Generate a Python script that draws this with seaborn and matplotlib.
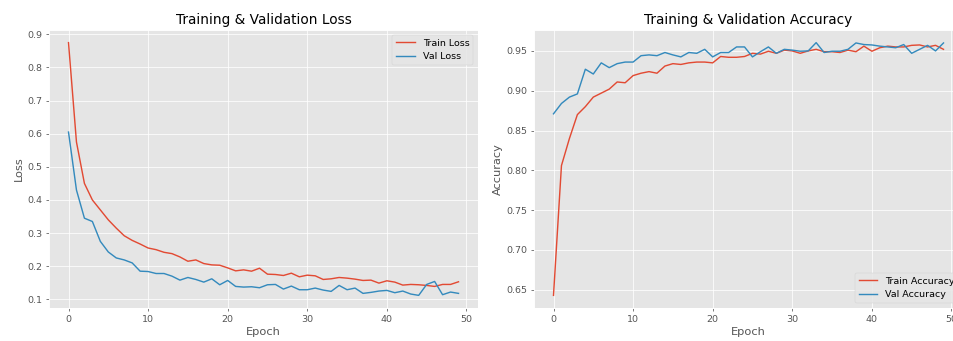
import matplotlib
matplotlib.use("Agg")
import matplotlib.pyplot as plt
import seaborn as sns
import numpy as np
import pandas as pd

epochs = list(range(50))

train_loss = [0.875, 0.575, 0.45, 0.40, 0.37, 0.34, 0.315, 0.292, 0.278, 0.267,
              0.255, 0.25, 0.242, 0.238, 0.228, 0.215, 0.219, 0.208, 0.204, 0.203,
              0.195, 0.186, 0.189, 0.185, 0.194, 0.176, 0.175, 0.172, 0.179, 0.168,
              0.173, 0.171, 0.16, 0.162, 0.166, 0.164, 0.161, 0.157, 0.158, 0.149,
              0.156, 0.152, 0.143, 0.145, 0.144, 0.142, 0.139, 0.145, 0.145, 0.153]
val_loss = [0.605, 0.43, 0.345, 0.335, 0.275, 0.243, 0.225, 0.219, 0.21, 0.185,
            0.184, 0.178, 0.178, 0.17, 0.158, 0.166, 0.16, 0.152, 0.162, 0.144,
            0.157, 0.139, 0.137, 0.138, 0.135, 0.144, 0.145, 0.131, 0.14, 0.129,
            0.129, 0.134, 0.128, 0.124, 0.142, 0.129, 0.134, 0.118, 0.121, 0.125,
            0.127, 0.12, 0.125, 0.116, 0.112, 0.145, 0.154, 0.114, 0.122, 0.118]
train_acc = [0.643, 0.806, 0.84, 0.87, 0.88, 0.892, 0.897, 0.902, 0.911, 0.910,
             0.919, 0.922, 0.924, 0.922, 0.931, 0.934, 0.933, 0.935, 0.936, 0.936,
             0.935, 0.943, 0.942, 0.942, 0.943, 0.947, 0.946, 0.9496, 0.947, 0.951,
             0.95, 0.947, 0.95, 0.952, 0.949, 0.949, 0.948, 0.951, 0.949, 0.956,
             0.9496, 0.954, 0.956, 0.955, 0.955, 0.957, 0.9575, 0.955, 0.957, 0.952]
val_acc = [0.871, 0.884, 0.892, 0.896, 0.927, 0.921, 0.935, 0.929, 0.934, 0.936,
           0.936, 0.944, 0.945, 0.944, 0.948, 0.945, 0.9425, 0.948, 0.947, 0.952,
           0.9425, 0.948, 0.948, 0.955, 0.955, 0.9425, 0.949, 0.955, 0.947, 0.952,
           0.951, 0.9496, 0.95, 0.9604, 0.948, 0.9496, 0.9496, 0.952, 0.96, 0.958,
           0.9575, 0.956, 0.955, 0.954, 0.958, 0.947, 0.952, 0.957, 0.95, 0.96]

plt.style.use("ggplot")

W, H = 953, 341
dpi = W / 14.0
fig = plt.figure(figsize=(14, H / dpi), dpi=dpi)

def axpos(x0, x1, y0, y1):
    return [x0 / W, 1 - y1 / H, (x1 - x0) / W, (y1 - y0) / H]

ax1 = fig.add_axes(axpos(49, 478, 30, 308))
ax2 = fig.add_axes(axpos(534, 963, 30, 308))

red = "#E24A33"
blue = "#348ABD"

sns.lineplot(x=epochs, y=train_loss, ax=ax1, color=red, label="Train Loss")
sns.lineplot(x=epochs, y=val_loss, ax=ax1, color=blue, label="Val Loss")
ax1.set_title("Training & Validation Loss")
ax1.set_xlabel("Epoch")
ax1.set_ylabel("Loss")
ax1.legend(loc="upper right")

sns.lineplot(x=epochs, y=train_acc, ax=ax2, color=red, label="Train Accuracy")
sns.lineplot(x=epochs, y=val_acc, ax=ax2, color=blue, label="Val Accuracy")
ax2.set_title("Training & Validation Accuracy")
ax2.set_xlabel("Epoch")
ax2.set_ylabel("Accuracy")
ax2.legend(loc="lower right")

fig.savefig("out.png", dpi=dpi)
